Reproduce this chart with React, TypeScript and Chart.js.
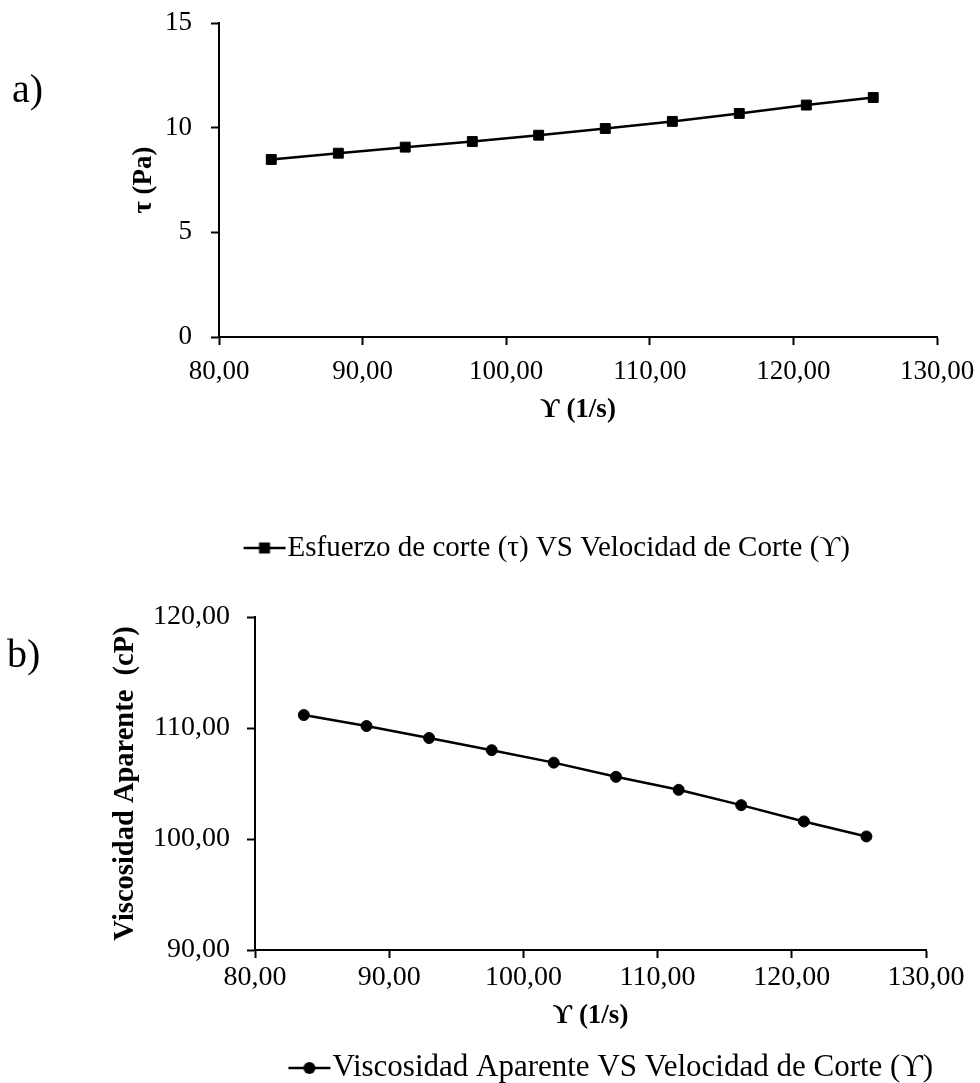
import React, { useEffect, useRef } from 'react';
import { Chart, registerables } from 'chart.js';

Chart.register(...registerables);

// ---------- data ----------
const shearRate = [83.64, 88.31, 92.97, 97.64, 102.26, 106.9, 111.57, 116.23, 120.9, 125.56];
const shearStress = [8.48, 8.78, 9.07, 9.34, 9.64, 9.96, 10.3, 10.68, 11.08, 11.44];
const apparentViscosity = [111.17, 110.18, 109.1, 108.0, 106.88, 105.6, 104.43, 103.05, 101.58, 100.23];
const xTicks = [80, 90, 100, 110, 120, 130];
const yTicksA = [0, 5, 10, 15];
const yTicksB = [90, 100, 110, 120];
const legendA = 'Esfuerzo de corte (τ) VS Velocidad de Corte (ϒ)';
const legendB = 'Viscosidad Aparente VS Velocidad de Corte (ϒ)';
const yTitleA = 'τ (Pa)';
const yTitleB = 'Viscosidad Aparente  (cP)';
const xTitle = 'ϒ (1/s)';

const FONT = "'Liberation Serif', 'DejaVu Serif', serif";

const comma2 = (v: number) => v.toFixed(2).replace('.', ',');

const ICON_W = 44;

function legendIcon(shape: 'rect' | 'circle'): HTMLCanvasElement {
  const c = document.createElement('canvas');
  c.width = ICON_W;
  c.height = 16;
  const ctx = c.getContext('2d')!;
  ctx.strokeStyle = '#000';
  ctx.lineWidth = 2.5;
  ctx.beginPath();
  ctx.moveTo(1, 8);
  ctx.lineTo(ICON_W - 1, 8);
  ctx.stroke();
  ctx.fillStyle = '#000';
  const cx = ICON_W / 2;
  if (shape === 'rect') {
    ctx.fillRect(cx - 5.5, 8 - 5.5, 11, 11);
  } else {
    ctx.beginPath();
    ctx.arc(cx, 8, 6, 0, Math.PI * 2);
    ctx.fill();
  }
  return c;
}

type Spec = {
  yData: number[];
  yTicks: number[];
  yFmt: (v: number) => string;
  yTitle: string;
  legend: string;
  shape: 'rect' | 'circle';
  radius: number;
  canvasW: number;
  canvasH: number;
  padLeft: number;
  padTop: number;
  padBottom: number;
  yScaleW: number;
  rightW: number;
  xScaleH: number;
  yTickPad: number;
  xTickPad: number;
  yTitlePadTop: number;
  xTitlePadBottom: number;
  legendPad: number;
  tickSize: number;
  legendSize: number;
  yTitleSize: number;
  xTitleSize: number;
};

function buildConfig(s: Spec): any {
  const icon = legendIcon(s.shape);
  const tickFont = { family: FONT, size: s.tickSize };
  return {
    type: 'line',
    data: {
      datasets: [
        {
          label: s.legend,
          data: shearRate.map((x, i) => ({ x, y: s.yData[i] })),
          borderColor: '#000',
          borderWidth: 2.5,
          backgroundColor: '#000',
          pointStyle: s.shape,
          pointRadius: s.radius,
          pointBackgroundColor: '#000',
          pointBorderColor: '#000',
          pointBorderWidth: 1,
          tension: 0,
          fill: false,
        },
      ],
    },
    options: {
      responsive: false,
      animation: false,
      events: [],
      layout: {
        padding: { left: s.padLeft, top: s.padTop, bottom: s.padBottom, right: 0 },
      },
      plugins: {
        tooltip: { enabled: false },
        legend: {
          display: true,
          position: 'bottom',
          labels: {
            usePointStyle: true,
            pointStyleWidth: ICON_W + 2 - s.legendSize,
            padding: s.legendPad,
            color: '#000',
            font: { family: FONT, size: s.legendSize },
            generateLabels: (chart: any) => [
              {
                text: chart.data.datasets[0].label,
                pointStyle: icon,
                fillStyle: '#000',
                strokeStyle: '#000',
                lineWidth: 0,
                hidden: false,
                datasetIndex: 0,
                fontColor: '#000',
              },
            ],
          },
        },
      },
      scales: {
        x: {
          type: 'linear',
          position: 'bottom',
          min: xTicks[0],
          max: xTicks[xTicks.length - 1],
          afterBuildTicks: (sc: any) => {
            sc.ticks = xTicks.map((v) => ({ value: v }));
          },
          afterFit: (sc: any) => {
            sc.height = s.xScaleH;
          },
          grid: { display: true, drawOnChartArea: false, drawTicks: true, tickLength: 8, tickColor: '#000', tickWidth: 2 },
          border: { display: true, color: '#000', width: 2 },
          ticks: {
            color: '#000',
            font: tickFont,
            padding: s.xTickPad,
            maxRotation: 0,
            autoSkip: false,
            callback: (v: any) => comma2(Number(v)),
          },
          title: {
            display: true,
            text: xTitle,
            color: '#000',
            font: { family: FONT, size: s.xTitleSize, weight: 'bold' },
            padding: { top: 0, bottom: s.xTitlePadBottom },
          },
        },
        y: {
          type: 'linear',
          position: 'left',
          min: s.yTicks[0],
          max: s.yTicks[s.yTicks.length - 1],
          afterBuildTicks: (sc: any) => {
            sc.ticks = s.yTicks.map((v) => ({ value: v }));
          },
          afterFit: (sc: any) => {
            sc.width = s.yScaleW;
          },
          grid: { display: true, drawOnChartArea: false, drawTicks: true, tickLength: 8, tickColor: '#000', tickWidth: 2 },
          border: { display: true, color: '#000', width: 2 },
          ticks: {
            color: '#000',
            font: tickFont,
            padding: s.yTickPad,
            autoSkip: false,
            callback: (v: any) => s.yFmt(Number(v)),
          },
          title: {
            display: true,
            text: s.yTitle,
            color: '#000',
            font: { family: FONT, size: s.yTitleSize, weight: 'bold' },
            padding: { top: s.yTitlePadTop, bottom: 0 },
          },
        },
        spacer: {
          type: 'linear',
          position: 'right',
          display: true,
          grid: { display: false },
          border: { display: false },
          ticks: { display: false },
          afterFit: (sc: any) => {
            sc.width = s.rightW;
          },
        },
      },
    },
  };
}

// chart a: canvas placed at page y = -15
const specA: Spec = {
  yData: shearStress,
  yTicks: yTicksA,
  yFmt: (v) => String(v),
  yTitle: yTitleA,
  legend: legendA,
  shape: 'rect',
  radius: 7,
  canvasW: 1006,
  canvasH: 590,
  padLeft: 100,
  padTop: 38,
  padBottom: 2.5,
  yScaleW: 119,
  rightW: 69,
  xScaleH: 186.5,
  yTickPad: 19,
  xTickPad: 10.8,
  yTitlePadTop: 27.8,
  xTitlePadBottom: 97.3,
  legendPad: 10,
  tickSize: 27,
  legendSize: 29,
  yTitleSize: 27,
  xTitleSize: 27,
};

// chart b: canvas placed at page y = 572
const specB: Spec = {
  yData: apparentViscosity,
  yTicks: yTicksB,
  yFmt: comma2,
  yTitle: yTitleB,
  legend: legendB,
  shape: 'circle',
  radius: 5.5,
  canvasW: 1135,
  canvasH: 525,
  padLeft: 100,
  padTop: 45,
  padBottom: 3.5,
  yScaleW: 155,
  rightW: 209,
  xScaleH: 92.5,
  yTickPad: 17,
  xTickPad: 2.8,
  yTitlePadTop: 8.8,
  xTitlePadBottom: 10.3,
  legendPad: 10,
  tickSize: 28,
  legendSize: 31,
  yTitleSize: 28.5,
  xTitleSize: 27,
};

function ChartCanvas({ spec, top }: { spec: Spec; top: number }) {
  const ref = useRef<HTMLCanvasElement | null>(null);
  useEffect(() => {
    if (!ref.current) return;
    const chart = new Chart(ref.current, buildConfig(spec));
    return () => chart.destroy();
  }, [spec]);
  return (
    <canvas
      ref={ref}
      width={spec.canvasW}
      height={spec.canvasH}
      style={{ position: 'absolute', left: 0, top, width: spec.canvasW, height: spec.canvasH }}
    />
  );
}

const panelLabel: React.CSSProperties = {
  position: 'absolute',
  fontFamily: FONT,
  fontSize: 40,
  lineHeight: 1,
  color: '#000',
  whiteSpace: 'nowrap',
};

export default function App() {
  return (
    <div
      style={{
        position: 'absolute',
        left: 0,
        top: 0,
        width: 980,
        height: 1083,
        overflow: 'hidden',
        background: '#fff',
      }}
    >
      <ChartCanvas spec={specA} top={-15} />
      <ChartCanvas spec={specB} top={572} />
      <div style={{ ...panelLabel, left: 12, top: 69 }}>a)</div>
      <div style={{ ...panelLabel, left: 7, top: 634 }}>b)</div>
    </div>
  );
}
